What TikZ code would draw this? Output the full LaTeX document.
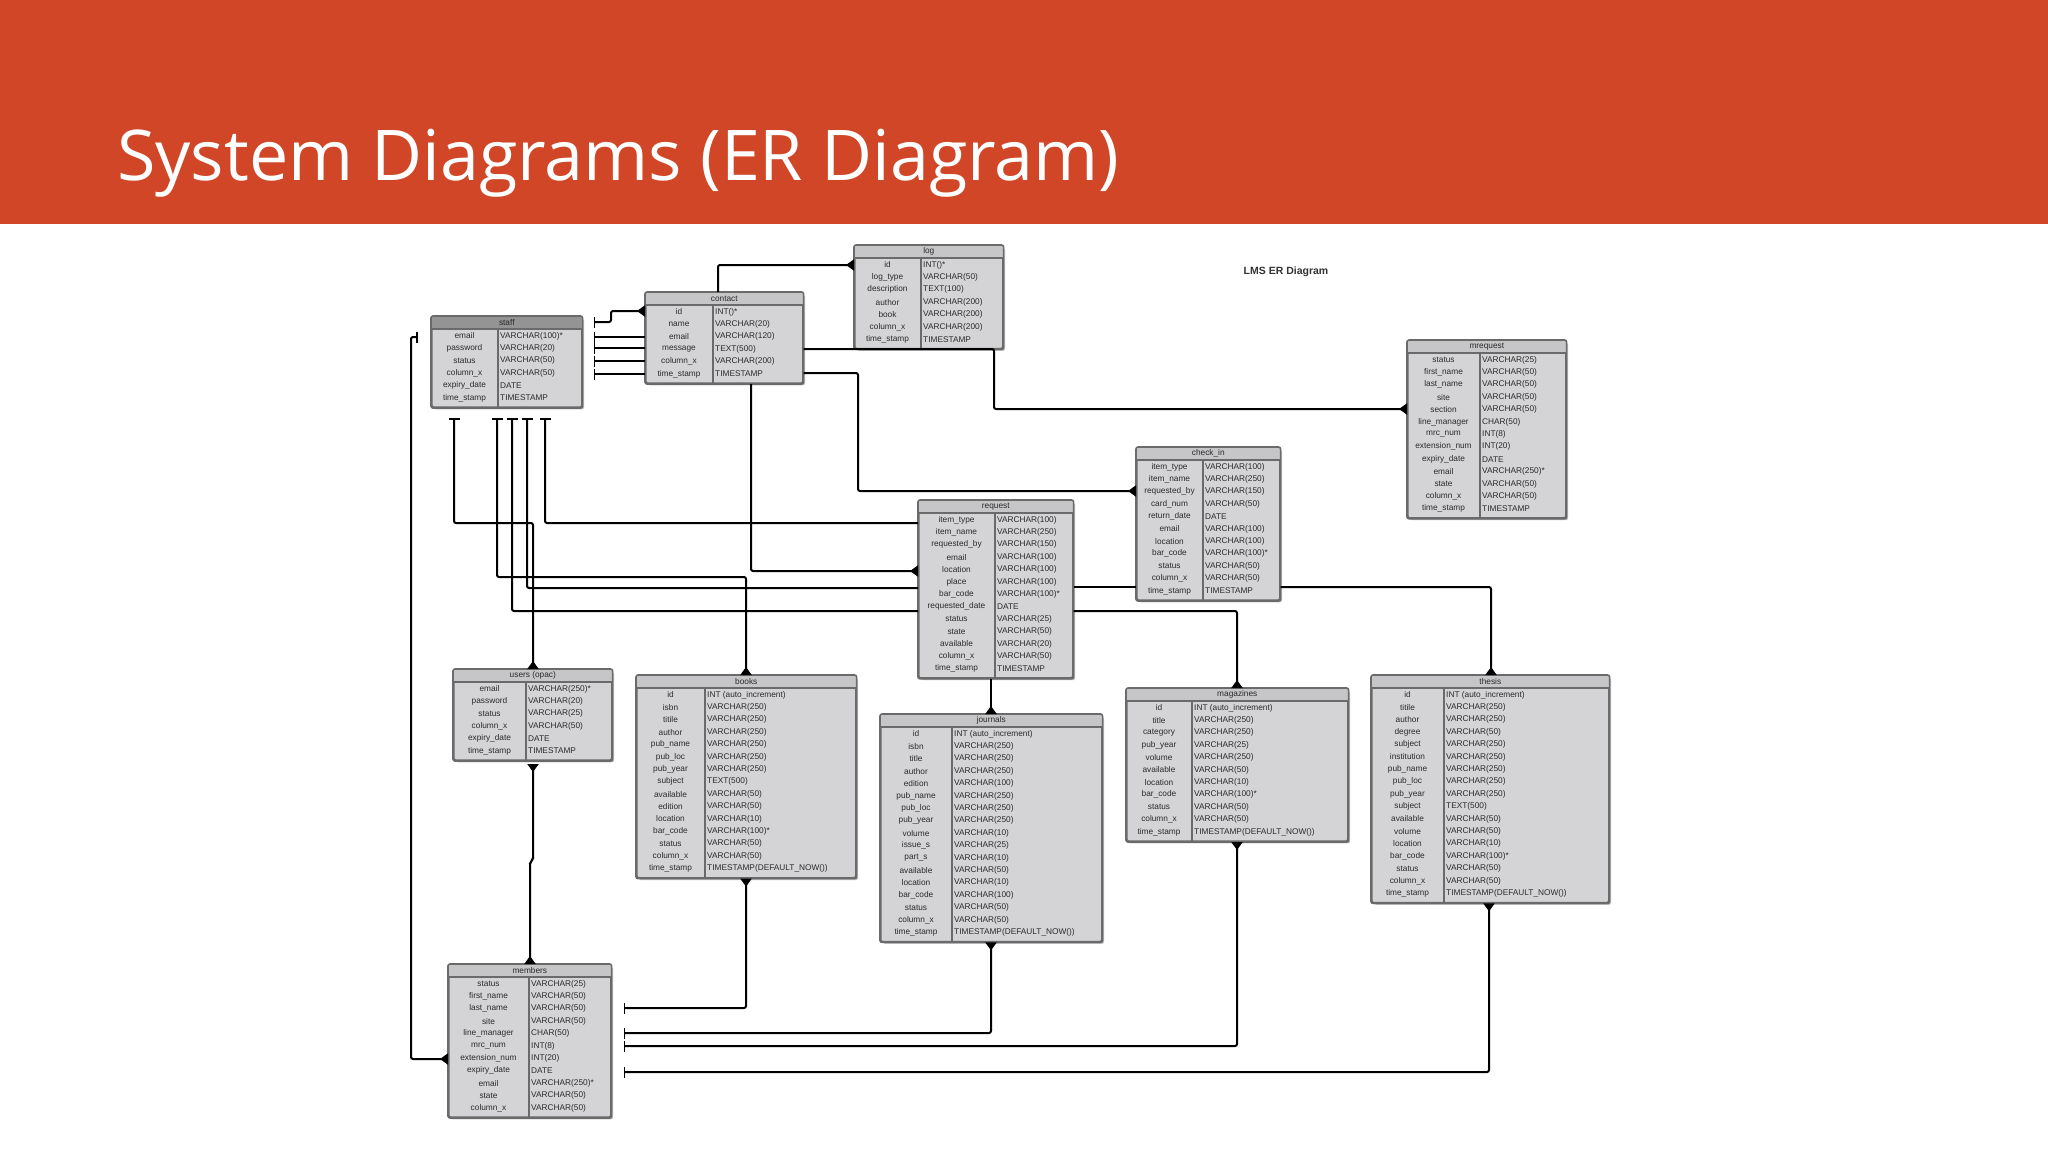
\documentclass[tikz,border=0pt]{standalone}
\usepackage{fontspec}
\setmainfont{Liberation Sans}
\newfontfamily\titlefont{Open Sans}
\usetikzlibrary{calc,arrows.meta}
\definecolor{banner}{HTML}{D04626}
\definecolor{tblfill}{HTML}{D4D4D6}
\definecolor{tblhead}{HTML}{C6C6C8}
\definecolor{tblborder}{HTML}{6A6A6A}
\definecolor{tbltext}{HTML}{2A2A2A}
\tikzset{
  tbl/.style={draw=tblborder, line width=1.6pt, fill=tblfill, rounded corners=2pt, inner sep=0pt},
  tblline/.style={draw=tblborder, line width=1.2pt},
  cell/.style={font=\fontsize{8.3}{9}\selectfont, text=tbltext, inner sep=0pt},
  rel/.style={draw=black, line width=2pt, rounded corners=2pt},
  tk/.tip={Bar[width=11pt,line width=1.8pt]},
  cf/.tip={Triangle[reversed,length=8pt,width=11pt]},
}
\newcommand\ertable[9][tblhead]{%
  \pgfmathsetmacro\tabh{13+#8*12.4+3}
  \fill[black!25,rounded corners=2pt] (#3+3,#4+3) rectangle ++(#5,\tabh);
  \node[tbl, anchor=north west, minimum width=#5pt, minimum height=\tabh pt] (#2) at (#3,#4) {};
  \fill[#1] ($(#2.north west)+(1,1)$) rectangle ($(#2.north east)+(-1,13)$);
  \draw[tblline] ($(#2.north west)+(0,13)$) -- ($(#2.north east)+(0,13)$);
  \draw[tblline] ($(#2.north west)+(#6,13)$) -- ($(#2.south west)+(#6,0)$);
  \draw[draw=tblborder, line width=1.6pt, rounded corners=2pt] (#2.north west) rectangle (#2.south east);
  \node[cell] at ($(#2.north)+(0,6.8)$) {#7};
  \foreach \k/\v [count=\i] in {#9} {
    \node[cell] at ($(#2.north west)+(#6/2,13+\i*12.4-5.4)$) {\k};
    \node[cell, anchor=west] at ($(#2.north west)+(#6+2,13+\i*12.4-5.4)$) {\v};
  }
}
\begin{document}
\begin{tikzpicture}[x=1pt,y=-1pt]
\useasboundingbox (0,0) rectangle (2048,1152);
\fill[white] (0,0) rectangle (2048,1152);
\fill[banner] (0,0) rectangle (2048,224);
\node[anchor=base west, inner sep=0pt, text=white, font=\titlefont\fontsize{70}{80}\selectfont] (title) at (117,180) {System Diagrams (ER Diagram)};
\node[font=\bfseries\fontsize{10.5}{12}\selectfont, text=black!80] (lms) at (1286,272) {LMS ER Diagram};

\ertable[black!42]{staff}{431}{316}{150}{67}{staff}{6}{email/VARCHAR(100)*, password/VARCHAR(20), status/VARCHAR(50), column\_x/VARCHAR(50), expiry\_date/DATE, time\_stamp/TIMESTAMP}
\ertable{contact}{645}{292}{157}{68}{contact}{6}{id/INT()*, name/VARCHAR(20), email/VARCHAR(120), message/TEXT(500), column\_x/VARCHAR(200), time\_stamp/TIMESTAMP}
\ertable{log}{854}{245}{148}{67}{log}{7}{id/INT()*, log\_type/VARCHAR(50), description/TEXT(100), author/VARCHAR(200), book/VARCHAR(200), column\_x/VARCHAR(200), time\_stamp/TIMESTAMP}
\ertable{mrequest}{1407}{340}{158}{73}{mrequest}{13}{status/VARCHAR(25), first\_name/VARCHAR(50), last\_name/VARCHAR(50), site/VARCHAR(50), section/VARCHAR(50), line\_manager/CHAR(50), mrc\_num/INT(8), extension\_num/INT(20), expiry\_date/DATE, email/VARCHAR(250)*, state/VARCHAR(50), column\_x/VARCHAR(50), time\_stamp/TIMESTAMP}
\ertable{checkin}{1136}{447}{143}{67}{check\_in}{11}{item\_type/VARCHAR(100), item\_name/VARCHAR(250), requested\_by/VARCHAR(150), card\_num/VARCHAR(50), return\_date/DATE, email/VARCHAR(100), location/VARCHAR(100), bar\_code/VARCHAR(100)*, status/VARCHAR(50), column\_x/VARCHAR(50), time\_stamp/TIMESTAMP}
\ertable{request}{918}{500}{154}{77}{request}{13}{item\_type/VARCHAR(100), item\_name/VARCHAR(250), requested\_by/VARCHAR(150), email/VARCHAR(100), location/VARCHAR(100), place/VARCHAR(100), bar\_code/VARCHAR(100)*, requested\_date/DATE, status/VARCHAR(25), state/VARCHAR(50), available/VARCHAR(20), column\_x/VARCHAR(50), time\_stamp/TIMESTAMP}
\ertable{users}{453}{669}{158}{73}{users (opac)}{6}{email/VARCHAR(250)*, password/VARCHAR(20), status/VARCHAR(25), column\_x/VARCHAR(50), expiry\_date/DATE, time\_stamp/TIMESTAMP}
\ertable{books}{636}{675}{219}{69}{books}{15}{id/INT (auto\_increment), isbn/VARCHAR(250), titile/VARCHAR(250), author/VARCHAR(250), pub\_name/VARCHAR(250), pub\_loc/VARCHAR(250), pub\_year/VARCHAR(250), subject/TEXT(500), available/VARCHAR(50), edition/VARCHAR(50), location/VARCHAR(10), bar\_code/VARCHAR(100)*, status/VARCHAR(50), column\_x/VARCHAR(50), time\_stamp/TIMESTAMP(DEFAULT\_NOW())}
\ertable{journals}{880}{714}{221}{72}{journals}{17}{id/INT (auto\_increment), isbn/VARCHAR(250), title/VARCHAR(250), author/VARCHAR(250), edition/VARCHAR(100), pub\_name/VARCHAR(250), pub\_loc/VARCHAR(250), pub\_year/VARCHAR(250), volume/VARCHAR(10), issue\_s/VARCHAR(25), part\_s/VARCHAR(10), available/VARCHAR(50), location/VARCHAR(10), bar\_code/VARCHAR(100), status/VARCHAR(50), column\_x/VARCHAR(50), time\_stamp/TIMESTAMP(DEFAULT\_NOW())}
\ertable{magazines}{1126}{688}{221}{66}{magazines}{11}{id/INT (auto\_increment), title/VARCHAR(250), category/VARCHAR(250), pub\_year/VARCHAR(25), volume/VARCHAR(250), available/VARCHAR(50), location/VARCHAR(10), bar\_code/VARCHAR(100)*, status/VARCHAR(50), column\_x/VARCHAR(50), time\_stamp/TIMESTAMP(DEFAULT\_NOW())}
\ertable{thesis}{1371}{675}{237}{73}{thesis}{17}{id/INT (auto\_increment), titile/VARCHAR(250), author/VARCHAR(250), degree/VARCHAR(50), subject/VARCHAR(250), institution/VARCHAR(250), pub\_name/VARCHAR(250), pub\_loc/VARCHAR(250), pub\_year/VARCHAR(250), subject/TEXT(500), available/VARCHAR(50), volume/VARCHAR(50), location/VARCHAR(10), bar\_code/VARCHAR(100)*, status/VARCHAR(50), column\_x/VARCHAR(50), time\_stamp/TIMESTAMP(DEFAULT\_NOW())}
\ertable{members}{448}{964}{162}{81}{members}{11}{status/VARCHAR(25), first\_name/VARCHAR(50), last\_name/VARCHAR(50), site/VARCHAR(50), line\_manager/CHAR(50), mrc\_num/INT(8), extension\_num/INT(20), expiry\_date/DATE, email/VARCHAR(250)*, state/VARCHAR(50), column\_x/VARCHAR(50)}

% connectors
\draw[rel,-cf] (contact.north -| 718,0) |- (log.west |- 0,265);
\draw[rel,tk-cf] ([xshift=11pt]staff.east |- 0,322) -- (611,322) -- (611,311) -- (contact.west |- 0,311);
\foreach \yy in {337,348,361,374}
  \draw[rel,-tk] (contact.west |- 0,\yy) -- ([xshift=11pt]staff.east |- 0,\yy);
\draw[rel,-cf] (contact.east |- 0,349) -| (994,409) -- (mrequest.west |- 0,409);
\draw[rel,-cf] (contact.east |- 0,373) -| (858,491) -- (checkin.west |- 0,491);
\draw[rel,-cf] (contact.south -| 751,0) |- (request.west |- 0,571);
\draw[rel,tk-cf] ([yshift=-10pt]staff.south -| 454,0) |- (533,523) -- (users.north -| 533,0);
\draw[rel,tk-] ([yshift=-10pt]staff.south -| 545,0) |- (request.west |- 0,523);
\draw[rel,tk-cf] ([yshift=-10pt]staff.south -| 497,0) |- (746,577) -- (books.north -| 746,0);
\draw[rel,tk-] ([yshift=-10pt]staff.south -| 527,0) |- (request.west |- 0,588);
\draw[rel,tk-] ([yshift=-10pt]staff.south -| 512,0) |- (request.west |- 0,611);
\draw[rel] (request.east |- 0,587) -- (checkin.west |- 0,587);
\draw[rel,-cf] (checkin.east |- 0,587) -| (thesis.north -| 1491,0);
\draw[rel,-cf] (request.east |- 0,611) -| (magazines.north -| 1237,0);
\draw[rel,-cf] (request.south -| 991,0) -- (journals.north -| 991,0);
\draw[rel,cf-cf] ([yshift=-3pt]users.south -| 533,0) -- (533,860) -- (530,862) -- (members.north -| 530,0);
\draw[rel,tk-cf] ([xshift=-13pt]staff.west |- 0,337) -| (411,1059) -- (members.west |- 0,1059);
\draw[rel,tk-cf] ([xshift=12pt]members.east |- 0,1008) -| (books.south -| 746,0);
\draw[rel,tk-cf] ([xshift=12pt]members.east |- 0,1033) -| (journals.south -| 991,0);
\draw[rel,tk-cf] ([xshift=12pt]members.east |- 0,1046) -| (magazines.south -| 1237,0);
\draw[rel,tk-cf] ([xshift=12pt]members.east |- 0,1072) -| (thesis.south -| 1489,0);
\end{tikzpicture}
\end{document}
